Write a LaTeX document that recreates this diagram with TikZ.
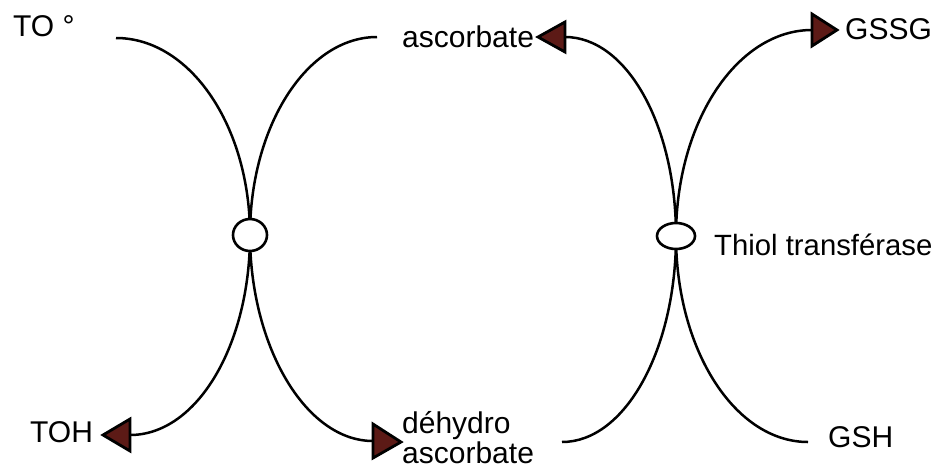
\documentclass[tikz,border=0pt]{standalone}
\usepackage{fontspec}
\setmainfont{Liberation Sans}
\usetikzlibrary{shapes.geometric}
\definecolor{arrowred}{RGB}{92,26,22}
\tikzset{
  lbl/.style={anchor=base west,inner sep=0pt,font=\fontsize{30}{31}\selectfont},
  curve/.style={line width=2.5pt,black},
  headtri/.style={fill=arrowred,draw=black,line width=2.8pt,line join=miter},
  hub/.style={ellipse,draw,line width=2.6pt,fill=white,inner sep=0pt}
}
\begin{document}
\begin{tikzpicture}[x=1pt,y=-1pt]
\useasboundingbox (0,0) rectangle (936,469);
% labels
\node[lbl] (to) at (13,36) {TO °};
\node[lbl] (asc) at (402,47) {ascorbate};
\node[lbl] (gssg) at (845,39) {GSSG};
\node[lbl,font=\fontsize{29.3}{31}\selectfont] (thiol) at (714,255) {Thiol transférase};
\node[lbl] (toh) at (30,442) {TOH};
\node[lbl,align=left] (deh) at (402,463) {déhydro\\[-1pt]ascorbate};
\node[lbl] (gsh) at (828,447) {GSH};
% hub positions
\coordinate (e1c) at (250,235);
\coordinate (e2c) at (676,236);
% curve ends
\coordinate (s1) at (116,38);
\coordinate (tohb) at (130,435);
\coordinate (toht) at (103,435);
\coordinate (s2) at (377,37);
\coordinate (dehb) at (373,441);
\coordinate (deht) at (401,442);
\coordinate (gssgb) at (812,30);
\coordinate (gssgt) at (837,30);
\coordinate (s4) at (808,442);
\coordinate (ascb) at (565,37);
\coordinate (asct) at (538,37);
\coordinate (s5) at (562,442);
% left pair
\draw[curve] (s1) .. controls (190,38) and (250,126) .. (e1c)
  .. controls (250,345) and (197,435) .. (tohb);
\draw[curve] (s2) .. controls (307,37) and (250,126) .. (e1c)
  .. controls (250,345) and (305,441) .. (dehb);
% right pair
\draw[curve] (s4) .. controls (735,442) and (676,350) .. (e2c)
  .. controls (676,122) and (737,30) .. (gssgb);
\draw[curve] (s5) .. controls (625,442) and (676,350) .. (e2c)
  .. controls (676,124) and (626,37) .. (ascb);
% arrowheads
\draw[headtri] (toht) -- ([yshift=-16pt]tohb) -- ([yshift=16pt]tohb) -- cycle;
\draw[headtri] (deht) -- ([yshift=-17pt]dehb) -- ([yshift=17pt]dehb) -- cycle;
\draw[headtri] (gssgt) -- ([yshift=-16pt]gssgb) -- ([yshift=16pt]gssgb) -- cycle;
\draw[headtri] (asct) -- ([yshift=-15pt]ascb) -- ([yshift=15pt]ascb) -- cycle;
% hubs
\node[hub,minimum width=34pt,minimum height=32pt] (e1) at (e1c) {};
\node[hub,minimum width=38pt,minimum height=26pt] (e2) at (e2c) {};
\end{tikzpicture}
\end{document}
